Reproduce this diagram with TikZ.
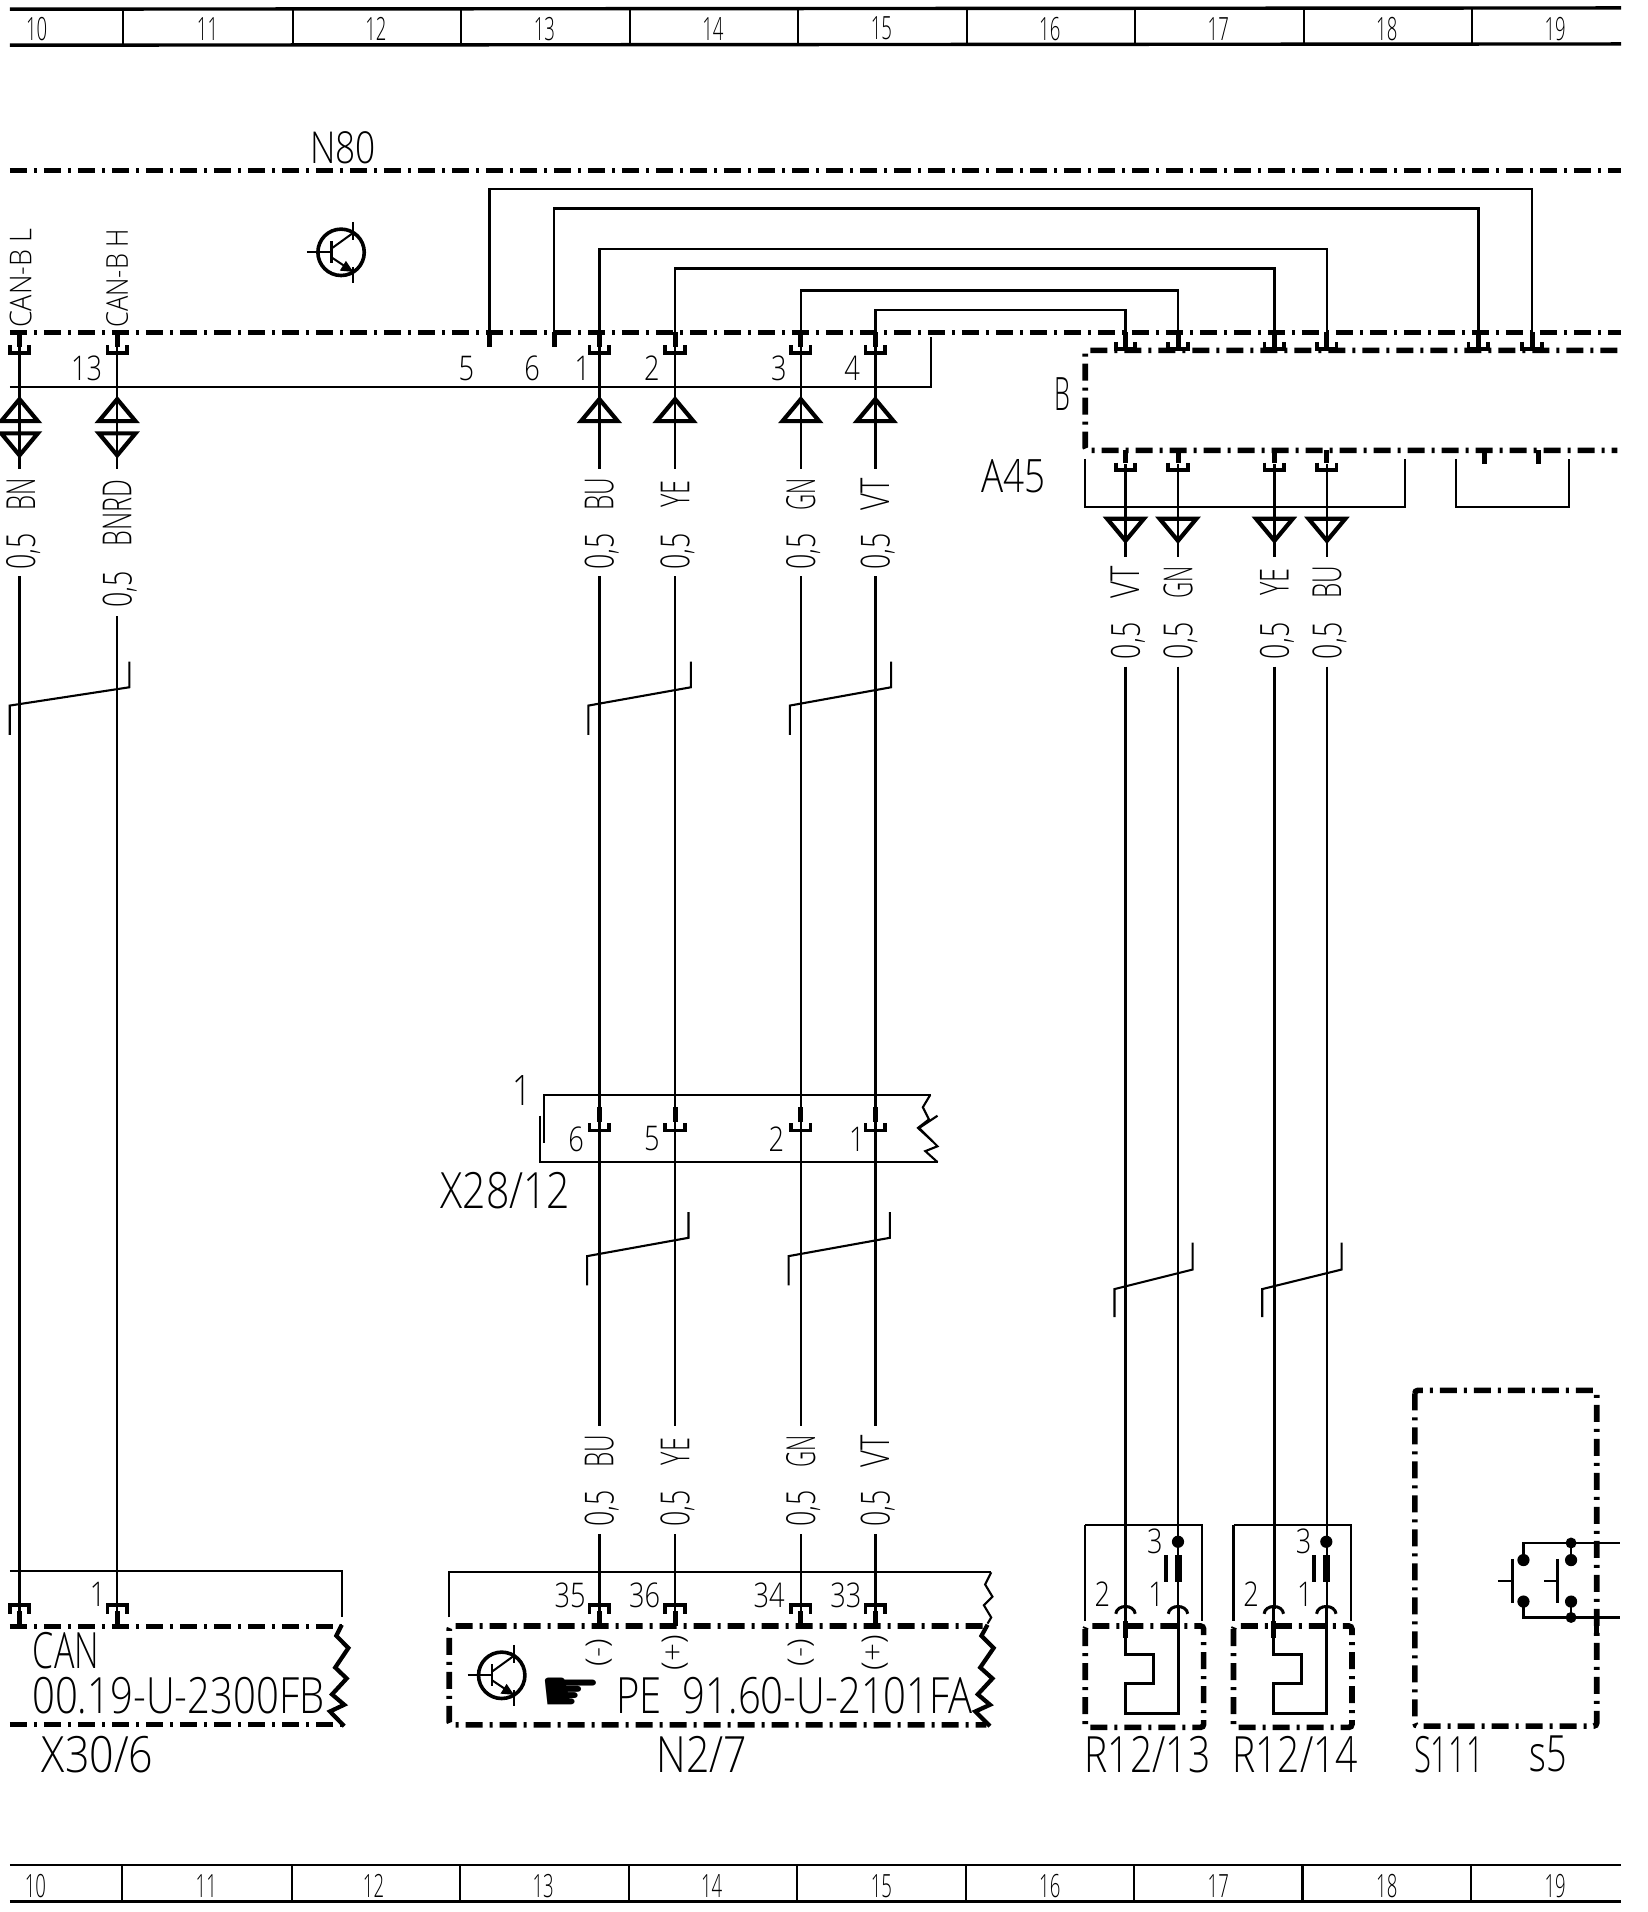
\documentclass[tikz,border=0pt]{standalone}
\usepackage{fontspec}
\usepackage{graphicx}
\setmainfont{Open Sans Light}
\newfontfamily\symfont{DejaVu Sans}
\newcommand\Tx[3]{\fontsize{#1pt}{#1pt}\selectfont\scalebox{#2}[1]{#3}}
\newcommand\Hd[1]{\Tx{32}{.58}{#1}}
\newcommand\Wl[2]{\Tx{40}{#1}{#2}}
\newcommand\Bg[2]{\Tx{50}{#1}{#2}}
\newcommand\Sm[1]{\Tx{34}{.8}{#1}}
\tikzset{
  every node/.style={inner sep=0pt,outer sep=0pt},
  wire/.style={line width=2.5pt},
  outl/.style={line width=2.1pt},
  hdthin/.style={line width=2.1pt},
  hdthick/.style={line width=3.4pt},
  bound/.style={line width=5pt,dash pattern=on 17pt off 7pt on 3pt off 7pt},
  bbox/.style={line width=5.6pt,dash pattern=on 17pt off 7pt on 3pt off 7pt,rounded corners=3pt},
  stub/.style={line width=5pt},
  brk/.style={line width=3.6pt},
  trisym/.style={line width=4.2pt,line join=miter},
  shld/.style={line width=2.1pt},
  zig/.style={line width=4.2pt,line join=miter},
  bru/.pic={\draw[brk] (-8,-6)--(-8,0)--(8,0)--(8,-6);},
  brn/.pic={\draw[brk] (-8,7)--(-8,0)--(8,0)--(8,7);},
  triup/.pic={\draw[trisym] (-15,18)--(0,0)--(15,18)--cycle;},
  tridn/.pic={\draw[trisym] (-15,-18)--(0,0)--(15,-18)--cycle;},
  trans/.pic={
    \draw[line width=3.6pt] (0,0) circle (19);
    \draw[line width=2pt] (-28,0)--(-8,0);
    \draw[line width=2.8pt] (-8,-9)--(-8,9);
    \draw[line width=2pt] (-8,-3)--(10,-16);
    \draw[line width=2pt] (10,-25)--(10,-10);
    \draw[line width=2pt] (-8,4)--(10,16);
    \fill (10,16)--(-1,15)--(4,7)--cycle;
    \draw[line width=2pt] (10,12)--(10,25);
  },
  sens/.pic={
    \draw[outl] (-33,-1)--(-33,78);
    \draw[outl] (-33,-1)--(63,-1)--(63,78);
    \fill (43,13) circle (5);
    \draw[line width=7pt] (43,24)--(43,46);
    \draw[line width=4pt] (33,24)--(33,46);
    \draw[line width=3pt] (-8,72) .. controls (-7,64) and (7,64) .. (8,72);
    \draw[line width=3pt] (35,72) .. controls (36,64) and (50,64) .. (51,72);
    \draw[bbox] (-33,82) rectangle (64,165);
    \draw[line width=3pt] (0,66)--(0,105)--(23,105)--(23,129)--(0,129)--(0,154)--(43,154)--(43,66);
    \draw[stub] (0,78)--(0,92);
  }
}
\begin{document}
\begin{tikzpicture}[x=1.2207pt,y=-1.2207pt]
\useasboundingbox (0,0) rectangle (1350,1566.3);
\fill[white] (0,0) rectangle (1350,1566.3);

% ---- page rulers
\draw[hdthick] (8,7.5)--(1328,6.5);
\draw[hdthick] (8,37)--(1328,36);
\foreach \x in {101,240,378,516,654,792,930,1068,1206} \draw[hdthin] (\x,7)--(\x,37);
\foreach \x/\t in {30/10,170/11,308/12,446/13,584/14,722/15,860/16,998/17,1136/18,1274/19}
  \node (rt\t) at (\x,23.5) {\Hd{\t}};
\draw[hdthin] (8,1528)--(1328,1528);
\draw[hdthick] (8,1557.5)--(1328,1557.5);
\foreach \x in {100,239,377,515,653,791,929,1067,1205} \draw[hdthin] (\x,1528)--(\x,1557);
\foreach \x/\t in {29/10,169/11,306/12,445/13,583/14,722/15,860/16,998/17,1136/18,1274/19}
  \node (rb\t) at (\x,1545) {\Hd{\t}};

% ---- N80
\node (n80) at (281,121) {\Tx{44}{.8}{N80}};
\draw[bound] (8,140)--(1328,140);
\draw[bound] (8,272)--(1328,272);
\pic at (279.4,206.7) {trans};

% ---- internal loops
\coordinate (a5) at (401,283);   \coordinate (b5) at (1255,155);   \coordinate (c5) at (1255,283);
\coordinate (a6) at (454,283);   \coordinate (b6) at (1211,171);   \coordinate (c6) at (1211,283);
\coordinate (a1) at (491,284);   \coordinate (b1) at (1087,204);   \coordinate (c1) at (1087,283);
\coordinate (a2) at (553,284);   \coordinate (b2) at (1044,220);   \coordinate (c2) at (1044,283);
\coordinate (a3) at (656,284);   \coordinate (b3) at (965,238);    \coordinate (c3) at (965,283);
\coordinate (a4) at (717,284);   \coordinate (b4) at (922,254);    \coordinate (c4) at (922,283);
\foreach \n in {5,6,1,2,3,4} \draw[wire] (a\n) |- (b\n) -- (c\n);

\foreach \x in {401,454,16,96,491,553,656,717} \draw[stub] (\x,272)--(\x,284);
\foreach \x in {922,965,1044,1087,1211,1255} {\draw[stub] (\x,272)--(\x,284); \pic at (\x,286) {bru};}
\foreach \x in {16,96,491,553,656,717} \pic at (\x,289) {bru};

% ---- connector outline under N80
\draw[outl] (8,317)--(763,317)--(763,276);
\foreach \n/\x/\t in {p13/71/13,p5/382/5,p6/436/6,p1/477/1,p2/534/2,p3/638/3,p4/698/4}
  \node (\n) at (\x,302) {\Sm{\t}};
\foreach \x in {16,96,491,553,656,717} \pic at (\x,327) {triup};
\foreach \x in {16,96} \pic at (\x,373) {tridn};

\node[rotate=90] (canl) at (17,228) {\Tx{30}{.9}{CAN-B L}};
\node[rotate=90] (canh) at (96,228) {\Tx{30}{.85}{CAN-B H}};

% ---- long wires (upper labels / lower labels)
\coordinate (wu16) at (16,284);  \coordinate (wm16) at (16,384);  \coordinate (wn16) at (16,472);  \coordinate (we16) at (16,1332);
\coordinate (wu96) at (96,284);  \coordinate (wm96) at (96,384);  \coordinate (wn96) at (96,505);  \coordinate (we96) at (96,1332);
\foreach \c in {16,96} {\draw[wire] (wu\c)--(wm\c); \draw[wire] (wn\c)--(we\c);}
\node[rotate=90] (l16a) at (17,405) {\Wl{.6}{BN}};
\node[rotate=90] (l16b) at (19,452) {\Wl{.67}{0,5}};
\node[rotate=90] (l96a) at (96,420) {\Wl{.63}{BNRD}};
\node[rotate=90] (l96b) at (98,483) {\Wl{.67}{0,5}};

\foreach \x/\t/\s in {491/BU/.61,553/YE/.63,656/GN/.56,717/VT/.73} {
  \draw[wire] (\x,284)--(\x,384);
  \draw[wire] (\x,472)--(\x,1168);
  \draw[wire] (\x,1257)--(\x,1332);
  \node[rotate=90] (lu\t) at (\x,405) {\Wl{\s}{\t}};
  \node[rotate=90] (lv\t) at (\x+2,452) {\Wl{.67}{0,5}};
  \node[rotate=90] (ld\t) at (\x,1189) {\Wl{\s}{\t}};
  \node[rotate=90] (le\t) at (\x+2,1236) {\Wl{.67}{0,5}};
}

% ---- A45
\draw[bbox] (1325,287)--(889,287)--(889,369)--(1325,369);
\node (lb) at (870,323) {\Tx{46}{.55}{B}};
\node (a45) at (830,390) {\Tx{46}{.8}{A45}};
\draw[outl] (889,376)--(889,415)--(1151,415)--(1151,376);
\draw[outl] (1193,376)--(1193,415)--(1285,415)--(1285,376);
\foreach \x in {1216,1260} \draw[stub] (\x,369)--(\x,380);
\foreach \x/\t/\s in {922/VT/.73,965/GN/.56,1044/YE/.63,1087/BU/.61} {
  \draw[stub] (\x,369)--(\x,379);
  \pic at (\x,385) {bru};
  \draw[wire] (\x,380)--(\x,456);
  \pic at (\x,443) {tridn};
  \draw[wire] (\x,546)--(\x,1318);
  \node[rotate=90] (la\t) at (\x,477) {\Wl{\s}{\t}};
  \node[rotate=90] (lb\t) at (\x+2,525) {\Wl{.67}{0,5}};
}

% ---- shield marks
\foreach \x/\y/\u/\v in {8/578/106/563,482/578/566/563,647/578/730/563,481/1029/564/1014,646/1029/729/1014}
  \draw[shld] (\x,\y+24)--(\x,\y)--(\u,\v)--(\u,\v-21);
\draw[shld] (913,1079)--(913,1056)--(977,1040)--(977,1018);
\draw[shld] (1034,1079)--(1034,1056)--(1099,1040)--(1099,1018);

% ---- X28/12
\draw[outl] (446,936)--(446,897)--(763,897);
\draw[outl] (442,914)--(442,952)--(768,952);
\draw[outl] (762,897)--(756,907)--(761,917)--(752,924)--(764,935);
\draw[outl] (768,914)--(753,924)--(768,939)--(758,943)--(768,952);
\foreach \x in {491,553,656,717} {\draw[stub] (\x,907)--(\x,919); \pic at (\x,926) {bru};}
\foreach \n/\x/\t in {x6/472/6,x5/534/5,x2/636/2,x1/702/1} \node (\n) at (\x,933) {\Sm{\t}};
\node (xone) at (428,893) {\Tx{42}{.8}{1}};
\node (x28) at (414,975) {\Bg{.82}{X28/12}};

% ---- X30/6
\draw[outl] (8,1287)--(280,1287)--(280,1325);
\draw[bound] (8,1332)--(280,1332);
\draw[bound] (8,1413)--(280,1413);
\draw[zig] (280,1331)--(275.5,1340)--(285.4,1350)--(274.6,1366)--(284,1375)--(272,1388)--(282,1396.5)--(270.3,1402)--(282,1414);
\foreach \x in {16,96} {\pic at (\x,1315) {brn}; \draw[stub] (\x,1320)--(\x,1332);}
\node (xone2) at (80,1306) {\Tx{34}{.8}{1}};
\node (can) at (54,1352) {\Bg{.68}{CAN}};
\node (code1) at (146,1389) {\Bg{.8}{00.19-U-2300FB}};
\node (x30) at (80,1437) {\Bg{.86}{X30/6}};

% ---- N2/7
\draw[outl] (368,1325)--(368,1288)--(812,1288);
\draw[outl] (812,1288)--(807,1298)--(813,1308)--(806,1315)--(812,1325)--(809,1330);
\draw[bbox] (805,1332)--(368,1332)--(368,1413)--(808,1413);
\draw[zig] (809,1331)--(804,1340)--(814,1350)--(803,1366)--(813,1375)--(801,1388)--(811,1396.5)--(799,1402)--(811,1414);
\foreach \x in {491,553,656,717} {\pic at (\x,1315) {brn}; \draw[stub] (\x,1320)--(\x,1332);}
\foreach \n/\x/\t in {p35/467/35,p36/528/36,p34/630/34,p33/693/33} \node (\n) at (\x,1307) {\Tx{34}{.8}{\t}};
\foreach \n/\x/\t in {s1/491/(-),s2/553/(+),s3/656/(-),s4/717/(+)} \node[rotate=90] (\n) at (\x,1354) {\Tx{30}{1.05}{\t}};
\pic at (411,1372.4) {trans};
\node (hand) at (468,1388) {\symfont\fontsize{56pt}{56pt}\selectfont\scalebox{1.25}[1.05]{\char"261B}};
\node (code2) at (651,1389) {\Bg{.8}{PE\ \ 91.60-U-2101FA}};
\node (n27) at (575,1437) {\Bg{.82}{N2/7}};

% ---- R12/13, R12/14
\pic at (922,1250) {sens};
\pic at (1043.5,1250) {sens};
\foreach \n/\x/\y/\t in {r3/946/1263/3,r2/903/1306/2,r1/947/1306/1,q3/1068/1263/3,q2/1025/1306/2,q1/1069/1306/1}
  \node (\n) at (\x,\y) {\Sm{\t}};
\node (r13) at (940,1437) {\Bg{.78}{R12/13}};
\node (r14) at (1061,1437) {\Bg{.78}{R12/14}};

% ---- S111
\draw[bbox] (1159,1139) rectangle (1308,1414);
\draw[stub] (1308,1325)--(1308,1338);
\coordinate (sa) at (1248,1278); \coordinate (sb) at (1248,1312);
\coordinate (sc) at (1287,1278); \coordinate (sd) at (1287,1312);
\coordinate (se) at (1327,1264); \coordinate (sf) at (1327,1325);
\draw[wire] (sa) |- (se);
\draw[wire] (sb) |- (sf);
\draw[wire] (sc)--(1287,1264);
\draw[wire] (sd)--(1287,1325);
\foreach \p in {sa,sb,sc,sd} \fill (\p) circle (5);
\fill (1287,1264) circle (4.5);
\fill (1287,1325) circle (4.5);
\draw[line width=2.8pt] (1239,1277)--(1239,1313);
\draw[wire] (1227,1295)--(1239,1295);
\draw[line width=2.8pt] (1276,1277)--(1276,1313);
\draw[wire] (1265,1295)--(1276,1295);
\node (s111) at (1187,1437) {\Bg{.62}{S111}};
\node (s5) at (1268,1437) {\Bg{.72}{s5}};
\end{tikzpicture}
\end{document}
